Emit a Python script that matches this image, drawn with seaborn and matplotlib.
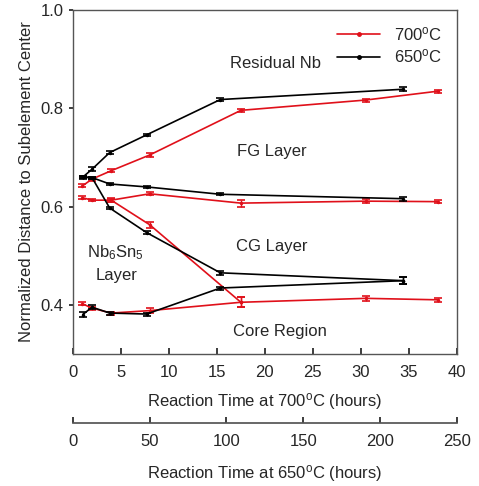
import numpy as np
import matplotlib
matplotlib.use("Agg")
import matplotlib.pyplot as plt
from matplotlib.lines import Line2D
import seaborn as sns

# 700 C series, x in hours at 700 C
t700 = [1, 2, 4, 8, 17.5, 30.5, 38]
red_top = [0.642, 0.656, 0.673, 0.705, 0.796, 0.817, 0.835]
red_top_err = [0.003, 0.003, 0.003, 0.004, 0.003, 0.003, 0.003]
red_mid = [0.618, 0.613, 0.613, 0.626, 0.607, 0.611, 0.610]
red_mid_err = [0.003, 0.002, 0.003, 0.003, 0.007, 0.004, 0.003]
t700_low = [4, 8, 17.5]
red_low = [0.613, 0.563, 0.405]
red_low_err = [0.004, 0.006, 0.010]
red_core = [0.402, 0.393, 0.383, 0.388, 0.405, 0.413, 0.410]
red_core_err = [0.003, 0.003, 0.003, 0.005, 0.010, 0.005, 0.004]

# 650 C series, x in hours at 650 C
t650 = [6.5, 12.5, 24, 48, 96, 215]
blk_top = [0.660, 0.676, 0.710, 0.746, 0.818, 0.839]
blk_top_err = [0.003, 0.004, 0.003, 0.002, 0.003, 0.004]
blk_mid = [0.660, 0.659, 0.646, 0.640, 0.625, 0.616]
blk_mid_err = [0.002, 0.002, 0.002, 0.002, 0.002, 0.004]
blk_low = [0.660, 0.659, 0.597, 0.547, 0.465, 0.449]
blk_low_err = [0.002, 0.002, 0.003, 0.003, 0.004, 0.007]
blk_core = [0.380, 0.395, 0.383, 0.381, 0.434, 0.449]
blk_core_err = [0.005, 0.004, 0.003, 0.003, 0.003, 0.007]

sns.set_theme(style="ticks")
plt.rcParams["font.family"] = ["Liberation Sans", "DejaVu Sans"]
plt.rcParams["mathtext.fontset"] = "custom"
plt.rcParams["mathtext.rm"] = "Liberation Sans"
plt.rcParams["mathtext.it"] = "Liberation Sans"

fs = 12
fig = plt.figure(figsize=(4.79, 4.86), dpi=100)
ax = fig.add_axes([0.152, 0.272, 0.802, 0.707])
ax2 = ax.twiny()


def draw(a, x, y, err, color):
    sns.lineplot(x=x, y=y, ax=a, color=color, lw=1.2, marker="o", markersize=2.5,
                 markeredgewidth=0, estimator=None, sort=False, legend=False)
    a.errorbar(x, y, yerr=err, fmt="none", ecolor=color, elinewidth=1.0,
               capsize=3, capthick=1.2)


for y, e in [(red_top, red_top_err), (red_mid, red_mid_err), (red_core, red_core_err)]:
    draw(ax, t700, y, e, "#e0101a")
draw(ax, t700_low, red_low, red_low_err, "#e0101a")
for y, e in [(blk_top, blk_top_err), (blk_mid, blk_mid_err), (blk_low, blk_low_err),
             (blk_core, blk_core_err)]:
    draw(ax2, t650, y, e, "black")

ax.set_xlim(0, 40)
ax.set_ylim(0.3, 1.0)
ax.set_xticks(np.arange(0, 41, 5))
ax.set_yticks([0.4, 0.6, 0.8, 1.0])
ax.set_yticklabels(["0.4", "0.6", "0.8", "1.0"])
ax.tick_params(axis="x", direction="in", length=4, labelsize=fs, pad=8)
ax.tick_params(axis="y", direction="out", length=3, labelsize=fs)
ax.set_xlabel(r"Reaction Time at 700$^\mathrm{o}$C (hours)", fontsize=fs, labelpad=8)
ax.set_ylabel("Normalized Distance to Subelement Center", fontsize=fs, labelpad=5)
for s in ax.spines.values():
    s.set_color("#555555")
    s.set_linewidth(1.0)

ax2.set_xlim(0, 250)
ax2.set_xticks(np.arange(0, 251, 50))
ax2.xaxis.set_ticks_position("bottom")
ax2.xaxis.set_label_position("bottom")
ax2.spines["bottom"].set_position(("outward", 50))
for k in ["top", "left", "right"]:
    ax2.spines[k].set_visible(False)
ax2.spines["bottom"].set_color("#555555")
ax2.tick_params(axis="x", direction="in", length=4, labelsize=fs, pad=8)
ax2.set_xlabel(r"Reaction Time at 650$^\mathrm{o}$C (hours)", fontsize=fs, labelpad=10)

ax.text(21.1, 0.892, "Residual Nb", ha="center", va="center", fontsize=fs)
ax.text(20.7, 0.713, "FG Layer", ha="center", va="center", fontsize=fs)
ax.text(20.7, 0.519, "CG Layer", ha="center", va="center", fontsize=fs)
ax.text(21.6, 0.345, "Core Region", ha="center", va="center", fontsize=fs)
ax.text(4.4, 0.506, r"Nb$_6$Sn$_5$", ha="center", va="center", fontsize=fs)
ax.text(4.6, 0.459, "Layer", ha="center", va="center", fontsize=fs)

handles = [Line2D([], [], color="#e0101a", lw=1.2, marker="o", markersize=2.5),
           Line2D([], [], color="black", lw=1.2, marker="o", markersize=2.5)]
ax.legend(handles, [r"700$^\mathrm{o}$C", r"650$^\mathrm{o}$C"], loc="upper right",
          frameon=False, fontsize=fs, handlelength=2.6, borderaxespad=0.5,
          labelspacing=0.25, handletextpad=0.8)

fig.savefig("out.png", dpi=100)
